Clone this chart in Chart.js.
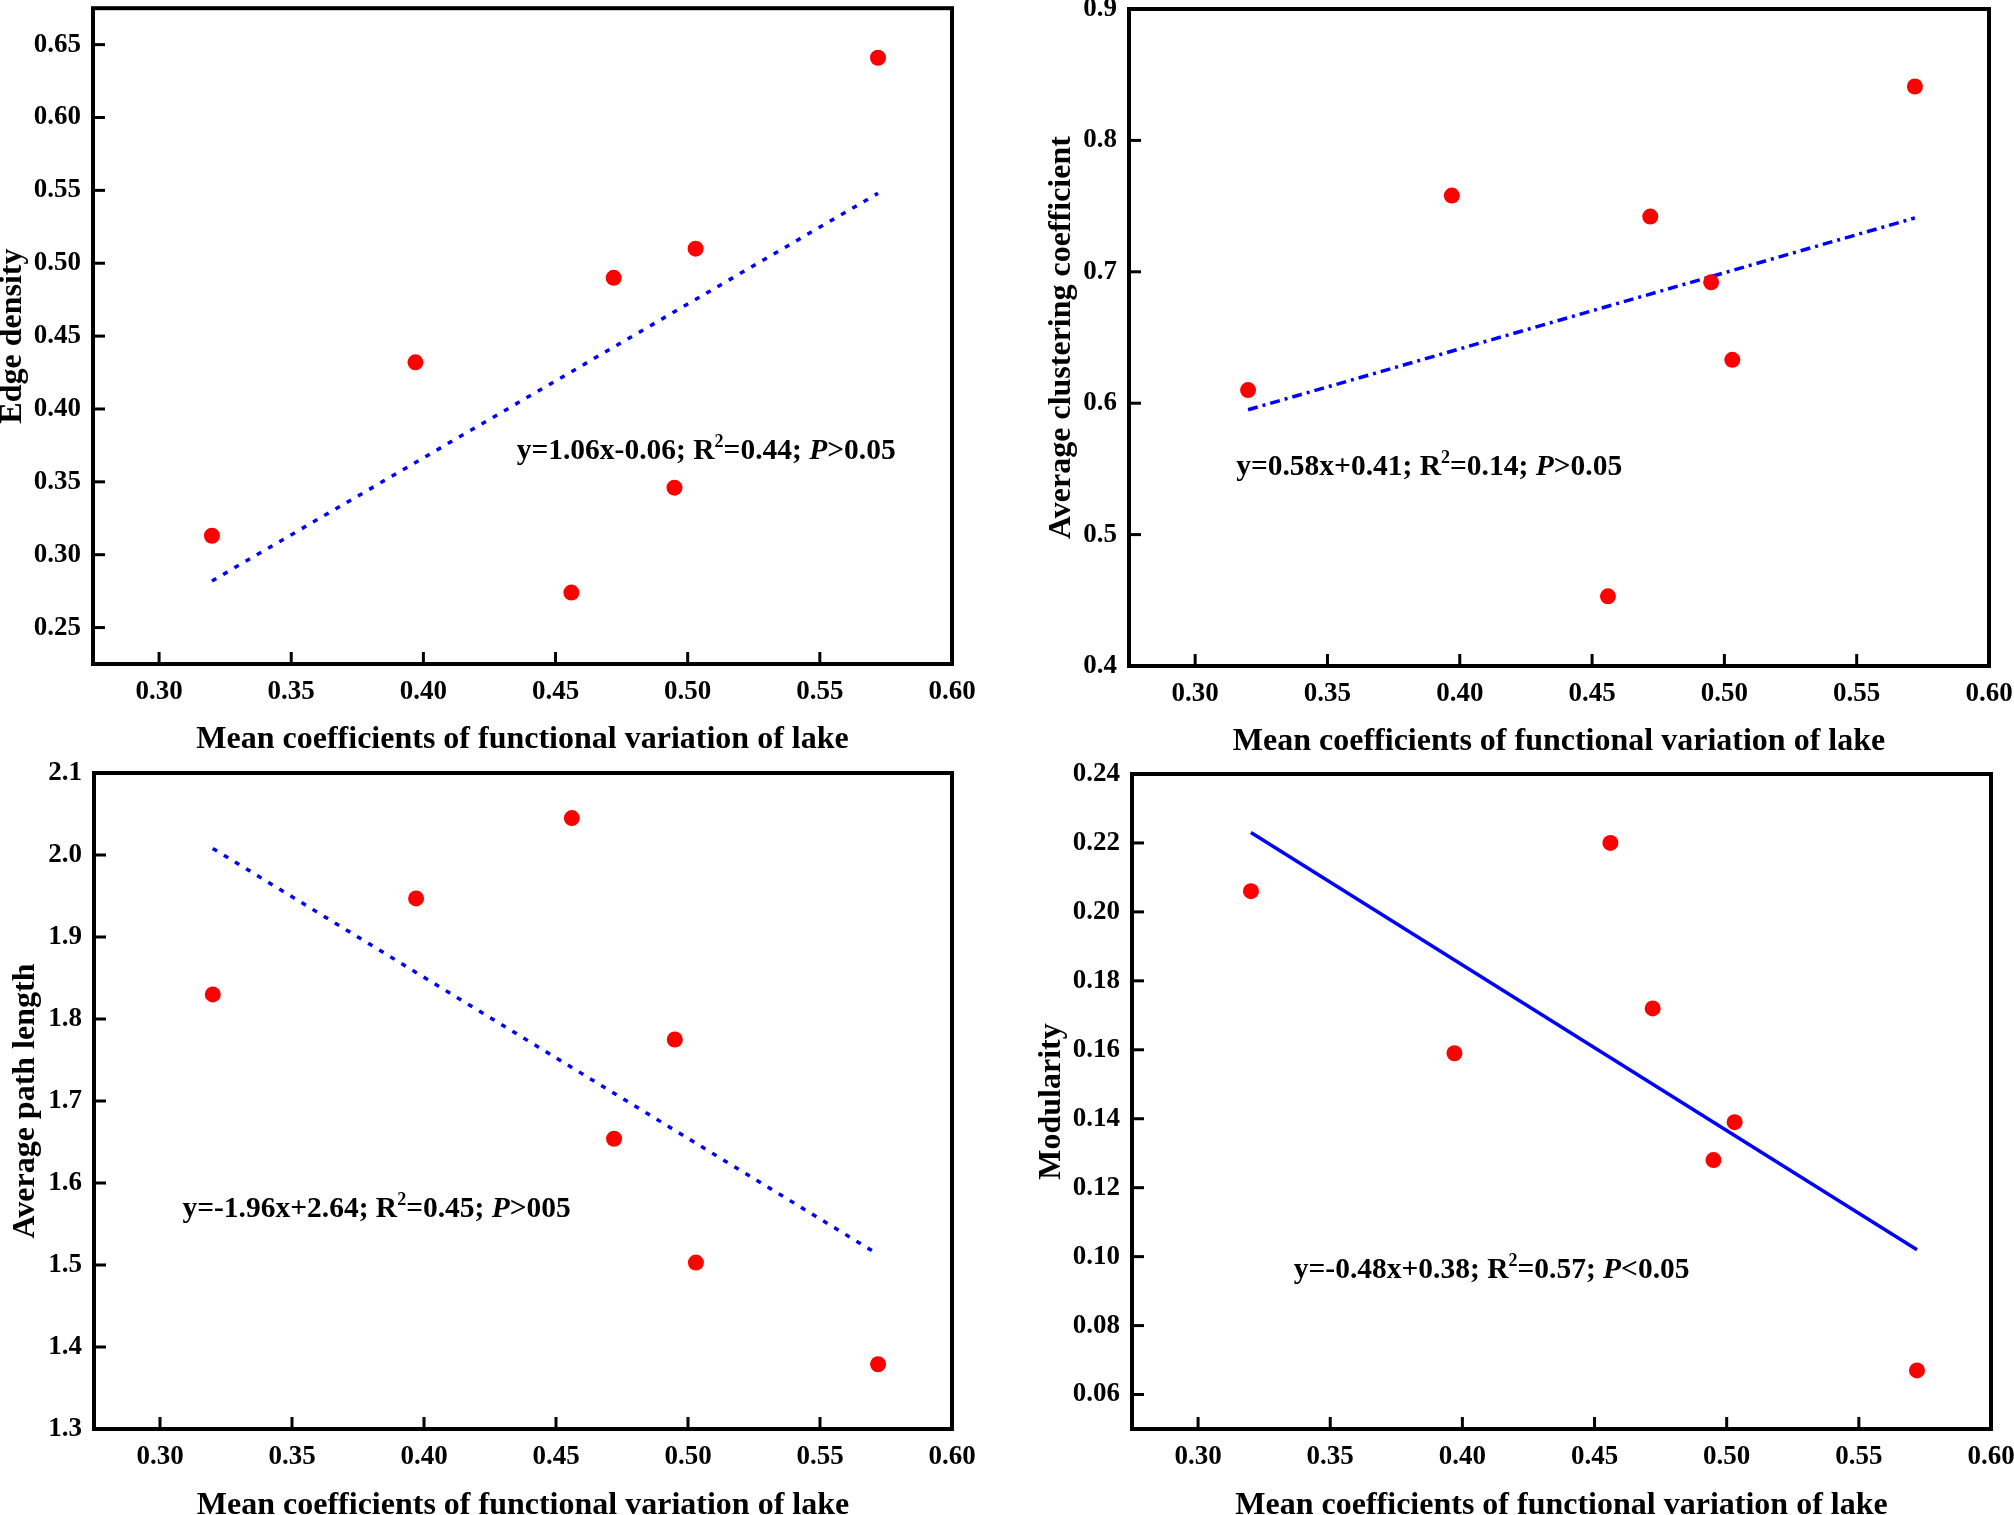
<!DOCTYPE html>
<html>
<head>
<meta charset="utf-8">
<script src="https://cdn.jsdelivr.net/npm/chart.js@4.4.0/dist/chart.umd.min.js"></script>
<style>
  html, body { margin: 0; padding: 0; width: 2014px; height: 1515px; overflow: hidden; background: #fff; }
  canvas { position: absolute; }
</style>
</head>
<body>
<canvas id="c1"></canvas>
<canvas id="c2"></canvas>
<canvas id="c3"></canvas>
<canvas id="c4"></canvas>
<script>
// data (same 7 lakes in every panel)
const lakeCV = [0.320, 0.397, 0.456, 0.472, 0.495, 0.503, 0.572];
const edgeDensity = [0.313, 0.432, 0.274, 0.490, 0.346, 0.510, 0.641];
const clustering = [0.610, 0.758, 0.453, 0.742, 0.692, 0.633, 0.841];
const pathLength = [1.830, 1.947, 2.045, 1.654, 1.775, 1.503, 1.379];
const modularity = [0.206, 0.159, 0.220, 0.172, 0.128, 0.139, 0.067];

// fitted lines, end points
const trendX = [0.320, 0.572];
const edgeTrend = [0.282, 0.548];
const clusterTrend = [0.595, 0.741];
const pathTrend = [2.008, 1.513];
const modTrend = [0.223, 0.102];

// ticks
const xTicks = [0.30, 0.35, 0.40, 0.45, 0.50, 0.55, 0.60];
const edgeTicks = [0.25, 0.30, 0.35, 0.40, 0.45, 0.50, 0.55, 0.60, 0.65];
const clusterTicks = [0.4, 0.5, 0.6, 0.7, 0.8, 0.9];
const pathTicks = [1.3, 1.4, 1.5, 1.6, 1.7, 1.8, 1.9, 2.0, 2.1];
const modTicks = [0.06, 0.08, 0.10, 0.12, 0.14, 0.16, 0.18, 0.20, 0.22, 0.24];

// equation text
const eqFit = ['y=1.06x-0.06; R', 'y=0.58x+0.41; R', 'y=-1.96x+2.64; R', 'y=-0.48x+0.38; R'];
const eqR2 = ['=0.44; ', '=0.14; ', '=0.45; ', '=0.57; '];
const eqP = ['>0.05', '>0.05', '>005', '<0.05'];

const xTitle = 'Mean coefficients of functional variation of lake';
const FONT = '"Liberation Serif", "Times New Roman", serif';

const panels = [
  { id: 'c1', cv: { l: -20, t: -20, w: 1027, h: 777 }, box: { l: 93, r: 952, t: 6, b: 664 },
    yTitle: 'Edge density', yData: edgeDensity, trend: edgeTrend, yTicks: edgeTicks, yDec: 2,
    yMin: 0.225, yMax: 0.675, dash: [5, 8], eq: 0, eqAt: [0.4353, 0.3656], yTitleX: 13, xTitleY: 740 },
  { id: 'c2', cv: { l: 1007, t: -20, w: 1027, h: 777 }, box: { l: 1129, r: 1989, t: 9, b: 666 },
    yTitle: 'Average clustering coefficient', yData: clustering, trend: clusterTrend, yTicks: clusterTicks, yDec: 1,
    yMin: 0.4, yMax: 0.9, dash: [10, 5, 3, 5], eq: 1, eqAt: [0.3155, 0.5454], yTitleX: 1062, xTitleY: 742 },
  { id: 'c3', cv: { l: -20, t: 737, w: 1027, h: 798 }, box: { l: 94, r: 952, t: 773, b: 1429 },
    yTitle: 'Average path length', yData: pathLength, trend: pathTrend, yTicks: pathTicks, yDec: 1,
    yMin: 1.3, yMax: 2.1, dash: [5, 8], eq: 2, eqAt: [0.3085, 1.558], yTitleX: 26, xTitleY: 1506 },
  { id: 'c4', cv: { l: 1007, t: 737, w: 1027, h: 798 }, box: { l: 1132, r: 1991, t: 774, b: 1429 },
    yTitle: 'Modularity', yData: modularity, trend: modTrend, yTicks: modTicks, yDec: 2,
    yMin: 0.05, yMax: 0.24, dash: [], eq: 3, eqAt: [0.3362, 0.0938], yTitleX: 1052, xTitleY: 1506 }
];

// frame, inward ticks and the fit equation
const framePlugin = {
  id: 'frame',
  afterDraw(chart) {
    const p = chart.options.plugins.frame;
    const ctx = chart.ctx, a = chart.chartArea;
    const xs = chart.scales.x, ys = chart.scales.y;
    ctx.save();
    ctx.strokeStyle = '#000';
    ctx.lineWidth = 3;
    xTicks.forEach(v => {
      const px = xs.getPixelForValue(v);
      ctx.beginPath(); ctx.moveTo(px, a.bottom); ctx.lineTo(px, a.bottom - 12); ctx.stroke();
    });
    p.yTicks.forEach(v => {
      const py = ys.getPixelForValue(v);
      ctx.beginPath(); ctx.moveTo(a.left, py); ctx.lineTo(a.left + 12, py); ctx.stroke();
    });
    ctx.lineWidth = 4;
    ctx.strokeRect(a.left, a.top, a.right - a.left, a.bottom - a.top);

    // equation
    let x = xs.getPixelForValue(p.eqAt[0]);
    const y = ys.getPixelForValue(p.eqAt[1]);
    ctx.fillStyle = '#000';
    ctx.textBaseline = 'alphabetic';
    ctx.textAlign = 'left';
    const parts = [
      [eqFit[p.eq], 'bold 29.5px', 0],
      ['2', 'bold 18px', -12],
      [eqR2[p.eq], 'bold 29.5px', 0],
      ['P', 'italic bold 29.5px', 0],
      [eqP[p.eq], 'bold 29.5px', 0]
    ];
    parts.forEach(([t, f, dy]) => {
      ctx.font = f + ' ' + FONT;
      ctx.fillText(t, x, y + dy);
      x += ctx.measureText(t).width;
    });
    ctx.restore();
  }
};

panels.forEach(p => {
  const cvs = document.getElementById(p.id);
  cvs.width = p.cv.w; cvs.height = p.cv.h;
  cvs.style.left = p.cv.l + 'px'; cvs.style.top = p.cv.t + 'px';
  cvs.style.width = p.cv.w + 'px'; cvs.style.height = p.cv.h + 'px';
  const cvBottom = p.cv.t + p.cv.h;

  new Chart(cvs.getContext('2d'), {
    type: 'scatter',
    data: {
      datasets: [
        {
          data: lakeCV.map((x, i) => ({ x: x, y: p.yData[i] })),
          backgroundColor: '#ff0000',
          borderWidth: 0,
          pointRadius: 8,
          order: 1
        },
        {
          data: trendX.map((x, i) => ({ x: x, y: p.trend[i] })),
          showLine: true,
          borderColor: '#0000ff',
          borderWidth: 3.5,
          borderDash: p.dash,
          pointRadius: 0,
          order: 2
        }
      ]
    },
    options: {
      responsive: false,
      animation: false,
      devicePixelRatio: 1,
      layout: { padding: { left: 0, bottom: 0, top: p.box.t - p.cv.t, right: p.cv.l + p.cv.w - p.box.r } },
      plugins: {
        legend: { display: false },
        tooltip: { enabled: false },
        frame: { yTicks: p.yTicks, eq: p.eq, eqAt: p.eqAt }
      },
      scales: {
        x: {
          type: 'linear',
          min: 0.275, max: 0.60,
          afterBuildTicks: s => { s.ticks = xTicks.map(v => ({ value: v })); },
          afterFit: s => { s.height = cvBottom - p.box.b; },
          grid: { display: false, drawTicks: false },
          border: { display: false },
          ticks: {
            color: '#000', padding: 12,
            font: { family: FONT, size: 27, weight: 'bold' },
            callback: v => v.toFixed(2)
          },
          title: {
            display: true, text: xTitle, color: '#000',
            font: { family: FONT, size: 32, weight: 'bold', lineHeight: 1 },
            padding: { top: 0, bottom: cvBottom - 16 - p.xTitleY }
          }
        },
        y: {
          type: 'linear',
          min: p.yMin, max: p.yMax,
          afterBuildTicks: s => { s.ticks = p.yTicks.map(v => ({ value: v })); },
          afterFit: s => { s.width = p.box.l - p.cv.l; },
          grid: { display: false, drawTicks: false },
          border: { display: false },
          ticks: {
            color: '#000', padding: 12,
            font: { family: FONT, size: 27, weight: 'bold' },
            callback: v => v.toFixed(p.yDec)
          },
          title: {
            display: true, text: p.yTitle, color: '#000',
            font: { family: FONT, size: 32, weight: 'bold', lineHeight: 1 },
            padding: { top: p.yTitleX - p.cv.l - 16, bottom: 0 }
          }
        }
      }
    },
    plugins: [framePlugin]
  });
});
</script>
</body>
</html>
